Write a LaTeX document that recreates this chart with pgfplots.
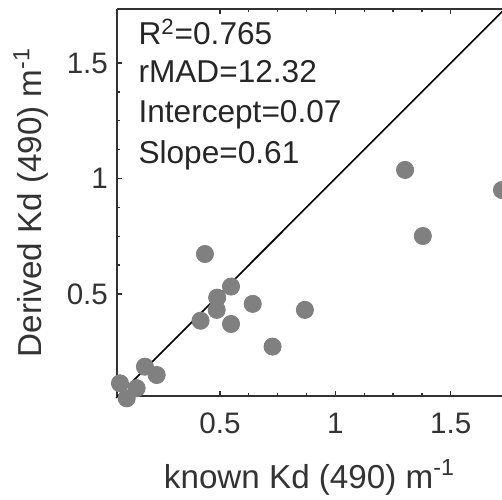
\documentclass[border=0pt]{standalone}
\usepackage{pgfplots}
\pgfplotsset{compat=1.18}
\usepackage{fontspec}
\setmainfont{Liberation Sans}

% Matched-pairs of attenuation coefficient Kd(490): known vs derived
\pgfplotstableread{
x      y
1.302  1.037
1.722  0.950
1.379  0.751
0.435  0.673
0.548  0.532
0.488  0.484
0.642  0.457
0.868  0.431
0.486  0.431
0.416  0.384
0.548  0.370
0.728  0.272
0.175  0.185
0.226  0.149
0.067  0.113
0.139  0.092
0.096  0.048
}\kddata

\definecolor{markgray}{RGB}{128,128,128}
\definecolor{axgray}{RGB}{50,50,50}

\begin{document}
\begin{tikzpicture}
\begin{axis}[
  scale only axis,
  width=192.5pt, height=193.5pt,
  xmin=0.054, xmax=1.722,
  ymin=0.058, ymax=1.734,
  axis x line*=box, axis y line*=left,
  axis line style={axgray, line width=0.7pt},
  xtick={0.5,1,1.5}, ytick={0.5,1,1.5},
  xticklabels={0.5,1,1.5}, yticklabels={0.5,1,1.5},
  minor tick num=3,
  tick align=inside,
  major tick length=2.5pt, minor tick length=1.5pt,
  every tick/.style={axgray, line width=0.7pt},
  /pgf/number format/assume math mode=true,
  ticklabel style={font=\fontsize{14.8}{17}\selectfont, text=black!80},
  xticklabel style={yshift=-5pt},
  yticklabel style={xshift=-1pt},
  xlabel={known Kd (490) m\textsuperscript{-1}},
  ylabel={Derived Kd (490) m\textsuperscript{-1}},
  label style={font=\fontsize{16.6}{19}\selectfont, text=black!80},
  xlabel style={at={(axis description cs:0.5,-0.238)}, anchor=base},
  ylabel style={at={(axis description cs:-0.195,0.5)}, anchor=base},
  clip=false,
]
\addplot[only marks, mark=*, mark size=4.3pt,
  mark options={fill=markgray, draw=markgray}] table[x=x,y=y] {\kddata};
% 1:1 reference line
\addplot[black, line width=0.8pt] coordinates {(0.05,0.05) (1.724,1.724)};
\begin{scope}[every node/.style={anchor=base west, inner sep=0pt,
    font=\fontsize{15.8}{18}\selectfont, text=black!85}]
\node at (axis description cs:0.055,0.907) {R\textsuperscript{2}=0.765};
\node at (axis description cs:0.055,0.811) {rMAD=12.32};
\node at (axis description cs:0.055,0.708) {Intercept=0.07};
\node at (axis description cs:0.055,0.602) {Slope=0.61};
\end{scope}
\end{axis}
\pgfresetboundingbox
\useasboundingbox ([xshift=-58.5pt, yshift=-51.5pt]current axis.south west)
  rectangle ([yshift=4.5pt]current axis.north east);
\end{tikzpicture}
\end{document}
